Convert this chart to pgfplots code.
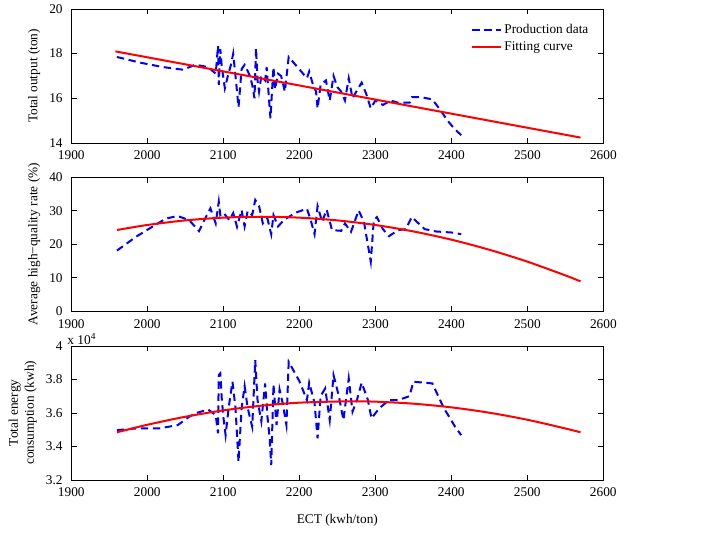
\documentclass[border=0pt]{standalone}
\usepackage{fontspec}
\setmainfont{Liberation Serif}
\usepackage{pgfplots}
\pgfplotsset{compat=1.18}

\pgfplotsset{
  matlab/.style={
    scale only axis,
    width=399pt, height=100.5pt,
    anchor=north west,
    xmin=1900, xmax=2600,
    xtick={1900,2000,...,2600},
    tick align=inside,
    xtick pos=both, ytick pos=both,
    major tick length=4pt,
    axis line style={black, line width=0.5pt},
    every tick/.style={black, line width=0.5pt},
    /pgf/number format/assume math mode=true,
    /pgf/number format/1000 sep={},
    ticklabel style={font=\normalsize},
    xticklabel style={yshift=-2.5pt},
    yticklabel style={xshift=-3pt},
    label style={font=\normalsize},
    scaled ticks=false,
  },
  prod/.style={blue, line width=1.5pt, dash pattern=on 5.5pt off 3.5pt},
  fit/.style={red, line width=1.5pt},
}

\begin{document}
\begin{tikzpicture}
% white page the size of the reference
\path (-53.5pt,6.7pt) rectangle (476pt,-395.3pt);

\begin{axis}[matlab, at={(0,0)},
  ymin=14, ymax=20, ytick={14,16,18,20},
  ylabel={Total output (ton)},
  legend style={draw=none, fill=none, at={(0.985,0.93)}, anchor=north east,
    font=\normalsize, row sep=1pt},
  legend cell align=left,
  legend image code/.code={\draw[#1] (0cm,0cm) -- (0.75cm,0cm);},
]
\addplot[prod] coordinates {
(1960,17.85)(1990,17.6)(2020,17.4)(2047,17.28)(2063,17.5)(2080,17.4)(2090,17.1)
(2093,18.35)(2094,16.6)(2096,18.2)(2098,17.4)(2102,16.45)(2106,17.0)(2110,17.5)
(2113,18.0)(2116,17.0)(2120,15.6)(2124,17.3)(2128,17.5)(2131,17.3)(2135,17.0)
(2138,16.6)(2141,16.0)(2143,18.25)(2145,16.8)(2147,16.3)(2150,17.0)(2155,16.8)
(2157,17.4)(2160,16.0)(2162,15.1)(2164,16.3)(2166,17.4)(2168,16.4)(2172,17.1)
(2176,17.0)(2181,16.3)(2186,17.85)(2200,17.3)(2210,16.9)(2213,17.2)(2218,16.6)
(2222,16.3)(2224,15.55)(2228,16.6)(2235,16.8)(2240,15.9)(2245,17.0)(2250,16.5)
(2255,16.3)(2260,15.9)(2265,16.9)(2270,16.0)(2275,16.3)(2282,16.7)(2288,16.2)
(2294,15.55)(2300,15.9)(2310,15.7)(2320,15.9)(2330,15.8)(2345,15.8)(2348,16.05)
(2360,16.05)(2375,15.95)(2385,15.5)(2395,15.0)(2405,14.6)(2413,14.35)
};
\addlegendentry{Production data}
\addplot[fit] coordinates {(1958,18.1)(2570,14.24)};
\addlegendentry{Fitting curve}
\end{axis}

\begin{axis}[matlab, at={(0,-126.2pt)},
  ymin=0, ymax=40, ytick={0,10,...,40},
  ylabel={Average high−quality rate (\%)},
]
\addplot[prod] coordinates {
(1960,18.1)(1985,22.2)(2010,25.7)(2025,27.7)(2040,28.4)(2055,27.2)(2068,23.9)
(2075,27.2)(2083,30.7)(2090,26.2)(2094,32.7)(2096,28.7)(2100,29.4)(2108,27.2)
(2113,29.3)(2118,25.2)(2124,30.2)(2128,25.3)(2132,29.9)(2138,28.7)(2142,33.2)
(2147,31.4)(2152,26.2)(2158,27.7)(2163,23.0)(2166,28.7)(2172,25.3)(2180,27.3)
(2195,29.4)(2210,30.6)(2215,27.2)(2220,23.0)(2224,31.4)(2230,26.7)(2236,30.3)
(2243,24.2)(2255,24.0)(2260,26.2)(2268,23.7)(2278,30.1)(2285,26.7)(2294,14.8)
(2298,27.2)(2302,28.1)(2310,24.5)(2318,22.4)(2330,24.2)(2340,24.5)(2348,28.1)
(2365,24.5)(2380,23.8)(2400,23.5)(2413,23.0)
};
\addplot[fit, smooth] coordinates {
(1960,24.25)(2000,25.74)(2050,27.11)(2100,27.93)(2150,28.2)(2200,27.93)
(2250,27.11)(2300,25.74)(2350,23.82)(2400,21.36)(2450,18.35)(2500,14.80)
(2550,10.7)(2570,8.9)
};
\end{axis}

\begin{axis}[matlab, at={(0,-252.7pt)},
  ymin=3.2, ymax=4, ytick={3.2,3.4,...,4.01},
  yticklabel style={/pgf/number format/fixed, /pgf/number format/precision=1},
  ylabel={Total energy\\consumption (kwh)},
  ylabel style={align=center},
  xlabel={ECT (kwh/ton)},
  xlabel style={yshift=-6pt},
  clip=false,
]
\addplot[prod] coordinates {
(1960,3.497)(1985,3.507)(2015,3.507)(2040,3.527)(2055,3.577)(2065,3.60)(2080,3.62)
(2090,3.587)(2093,3.478)(2094,3.826)(2096,3.836)(2098,3.68)(2100,3.577)(2103,3.467)
(2107,3.63)(2112,3.786)(2116,3.63)(2120,3.308)(2124,3.627)(2128,3.76)(2132,3.63)
(2138,3.517)(2142,3.915)(2145,3.676)(2150,3.55)(2155,3.776)(2158,3.58)(2161,3.448)
(2163,3.288)(2166,3.77)(2170,3.527)(2174,3.74)(2178,3.66)(2183,3.527)(2186,3.905)
(2200,3.79)(2210,3.676)(2213,3.78)(2220,3.66)(2224,3.448)(2228,3.70)(2234,3.746)
(2240,3.557)(2245,3.826)(2252,3.70)(2258,3.557)(2265,3.806)(2270,3.607)(2276,3.68)
(2282,3.78)(2290,3.68)(2295,3.567)(2305,3.627)(2318,3.676)(2330,3.676)(2345,3.70)
(2350,3.786)(2365,3.78)(2375,3.776)(2390,3.63)(2405,3.517)(2413,3.467)
};
\addplot[fit, smooth] coordinates {
(1960,3.484)(2000,3.529)(2050,3.577)(2100,3.615)(2150,3.643)(2200,3.661)
(2265,3.669)(2300,3.667)(2350,3.655)(2400,3.633)(2450,3.601)(2500,3.559)
(2550,3.507)(2570,3.484)
};
\node[anchor=south west, inner sep=0.5pt, font=\normalsize, yshift=0.5pt] at (rel axis cs:-0.009,1) {x 10\textsuperscript{4}};
\end{axis}
\end{tikzpicture}
\end{document}
